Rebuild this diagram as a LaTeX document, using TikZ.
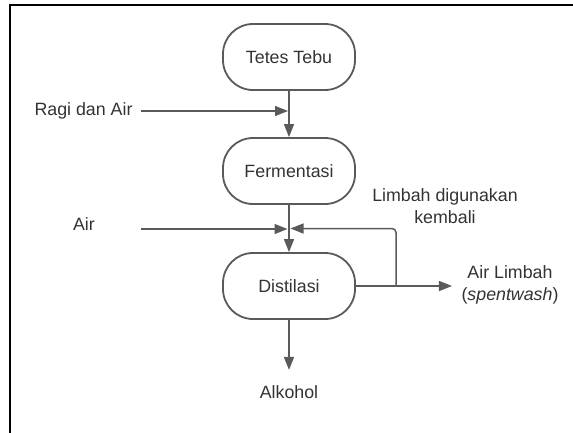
\documentclass[tikz,border=0pt]{standalone}
\usepackage{fontspec}
\setmainfont{Liberation Sans}
\usetikzlibrary{arrows.meta,positioning,calc}
\definecolor{lnc}{HTML}{5A5A5A}
\definecolor{txc}{HTML}{333333}

\begin{document}
\begin{tikzpicture}[x=1pt,y=-1pt,font=\fontsize{17.8}{22}\selectfont,
  proc/.style={draw=lnc,line width=1.8pt,rounded corners=30pt,minimum width=132pt,minimum height=66pt,text=txc},
  lbl/.style={text=txc,align=center},
  flow/.style={draw=lnc,line width=1.5pt,-{Triangle[length=13pt,width=10pt]}}]
\useasboundingbox (0,0) rectangle (573,432);
\draw[line width=2pt] (10,5) rectangle (600,460);
% process boxes
\node[proc] (tebu) at (289,57) {Tetes Tebu};
\node[proc] (ferm) at (289,171) {Fermentasi};
\node[proc] (dist) at (289,286) {Distilasi};
% side labels
\node[lbl,anchor=east] (ragi) at (136,111) {Ragi dan Air};
\node[lbl] (air) at (84,224) {Air};
\node[lbl] (limbah) at (445,206) {Limbah digunakan\\kembali};
\node[lbl] (spent) at (510,285) {Air Limbah\\(\textit{spentwash})};
\node[lbl] (alk) at (289,392) {Alkohol};
\coordinate (airin) at (141,229);
\coordinate (split) at (396,286);
\coordinate (back) at (396,228.5);
% main flow
\draw[flow] (tebu) -- (ferm);
\draw[flow] (ferm) -- (dist);
\draw[flow,shorten >=12pt] (dist) -- (alk);
% inputs
\draw[flow,shorten >=1pt] ([xshift=5pt]ragi.east) -- (tebu.south |- ragi.east);
\draw[flow,shorten >=1.5pt] (airin) -- (dist.north |- airin);
% waste and recycle
\draw[flow,shorten >=6pt] (dist.east) -- (spent.west |- dist.east);
\draw[flow,rounded corners=4pt,shorten >=1.5pt] (split) -- (back) -- (dist.north |- back);
\end{tikzpicture}
\end{document}
